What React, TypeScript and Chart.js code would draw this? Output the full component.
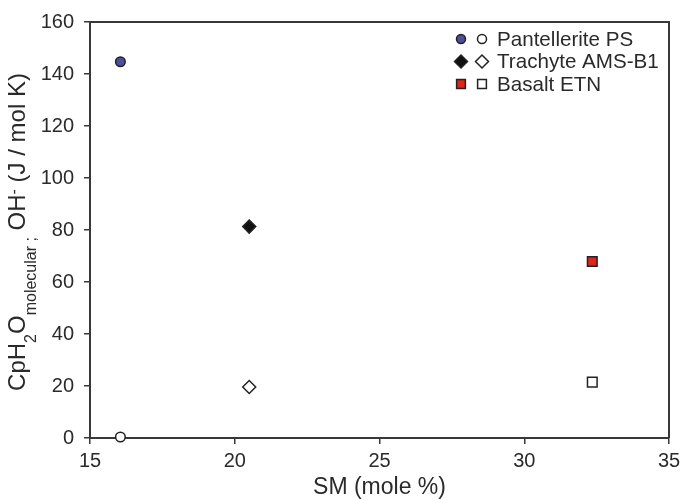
import { useEffect, useRef } from "react"
import { Chart, registerables } from "chart.js"

Chart.register(...registerables)

// samples and their values
const samples = ["Pantellerite PS", "Trachyte AMS-B1", "Basalt ETN"]
const smMolePct = [16.05, 20.5, 32.35]
const cpMolecular = [144.7, 81.3, 67.9]
const cpHydroxyl = [0.4, 19.6, 21.5]

const markerShapes = ["circle", "rectRot", "rect"]
const markerFills = ["#4b4f9c", "#111111", "#e0231c"]
const markerRadii = [4.8, 6.5, 6.8]

const xTitle = "SM (mole %)"
const yTitleParts = [
  { text: "CpH", kind: "main" },
  { text: "2", kind: "sub" },
  { text: "O", kind: "main" },
  { text: "molecular ;", kind: "sub" },
  { text: " OH", kind: "main" },
  { text: "-", kind: "sup" },
  { text: " (J / mol K)", kind: "main" },
]

const FONT = "'Liberation Sans', Arial, sans-serif"
const INK = "#2a2a2a"
const AXIS = "#383838"

function drawMarker(ctx: CanvasRenderingContext2D, shape: string, x: number, y: number, r: number, fill: string) {
  ctx.beginPath()
  if (shape === "circle") {
    ctx.arc(x, y, r, 0, Math.PI * 2)
  } else if (shape === "rectRot") {
    ctx.moveTo(x - r, y)
    ctx.lineTo(x, y - r)
    ctx.lineTo(x + r, y)
    ctx.lineTo(x, y + r)
    ctx.closePath()
  } else {
    const h = r * Math.SQRT1_2
    ctx.rect(x - h, y - h, h * 2, h * 2)
  }
  ctx.fillStyle = fill
  ctx.fill()
  ctx.lineWidth = 1.5
  ctx.strokeStyle = "#222"
  ctx.stroke()
}

const framePlugin = {
  id: "frame",
  beforeDatasetsDraw(chart: Chart) {
    const { ctx, chartArea } = chart
    ctx.save()
    ctx.strokeStyle = AXIS
    ctx.lineWidth = 2
    ctx.beginPath()
    ctx.moveTo(chartArea.left, chartArea.top)
    ctx.lineTo(chartArea.right, chartArea.top)
    ctx.lineTo(chartArea.right, chartArea.bottom)
    ctx.stroke()
    ctx.restore()
  },
}

const yTitlePlugin = {
  id: "yTitle",
  afterDraw(chart: Chart) {
    const { ctx, chartArea } = chart
    const mainFont = `24px ${FONT}`
    const smallFont = `16px ${FONT}`
    ctx.save()
    ctx.translate(25, (chartArea.top + chartArea.bottom) / 2 + 2)
    ctx.rotate(-Math.PI / 2)
    ctx.fillStyle = INK
    ctx.textBaseline = "alphabetic"
    ctx.textAlign = "left"
    let total = 0
    for (const p of yTitleParts) {
      ctx.font = p.kind === "main" ? mainFont : smallFont
      total += ctx.measureText(p.text).width
    }
    let x = -total / 2
    for (const p of yTitleParts) {
      ctx.font = p.kind === "main" ? mainFont : smallFont
      const dy = p.kind === "sub" ? 11 : p.kind === "sup" ? -6 : 0
      ctx.fillText(p.text, x, dy)
      x += ctx.measureText(p.text).width
    }
    ctx.restore()
  },
}

const legendPlugin = {
  id: "pairLegend",
  afterDraw(chart: Chart) {
    const { ctx } = chart
    ctx.save()
    ctx.font = `20.6px ${FONT}`
    ctx.textBaseline = "middle"
    ctx.textAlign = "left"
    samples.forEach((name, i) => {
      const y = 39 + i * 22.5
      const r = i === 0 ? 4.5 : i === 1 ? 6.5 : 6.2
      drawMarker(ctx, markerShapes[i], 461, y, r, markerFills[i])
      drawMarker(ctx, markerShapes[i], 482, y, r, "#ffffff")
      ctx.fillStyle = INK
      ctx.fillText(name, 497, y + 1)
    })
    ctx.restore()
  },
}

export default function App() {
  const chartRef = useRef<HTMLCanvasElement>(null)
  const chartInstance = useRef<Chart | null>(null)

  useEffect(() => {
    if (!chartRef.current) return
    if (chartInstance.current) chartInstance.current.destroy()

    const datasets: any[] = []
    samples.forEach((name, i) => {
      const common = {
        pointStyle: markerShapes[i],
        pointRadius: markerRadii[i],
        pointBorderWidth: 1.5,
        borderColor: "#222",
        showLine: false,
        clip: false,
      }
      datasets.push({
        ...common,
        label: name + " (molecular)",
        data: [{ x: smMolePct[i], y: cpMolecular[i] }],
        backgroundColor: markerFills[i],
      })
      datasets.push({
        ...common,
        label: name + " (OH)",
        data: [{ x: smMolePct[i], y: cpHydroxyl[i] }],
        backgroundColor: "#ffffff",
      })
    })

    chartInstance.current = new Chart(chartRef.current, {
      type: "scatter",
      data: { datasets },
      options: {
        responsive: false,
        animation: false,
        devicePixelRatio: 1,
        layout: { padding: { top: 21, right: 17, left: 0, bottom: 0 } },
        plugins: {
          legend: { display: false },
          tooltip: { enabled: false },
        },
        scales: {
          x: {
            type: "linear",
            min: 15,
            max: 35,
            ticks: { stepSize: 5, color: INK, font: { size: 20, family: FONT }, padding: 5 },
            grid: { drawOnChartArea: false, drawTicks: true, tickLength: 6, color: AXIS, lineWidth: 1.5 },
            border: { display: true, color: AXIS, width: 2 },
            title: {
              display: true,
              text: xTitle,
              color: INK,
              font: { size: 23, family: FONT },
              padding: { top: 0, bottom: -2 },
            },
            afterFit: (scale: any) => {
              scale.height = 61
            },
          },
          y: {
            type: "linear",
            min: 0,
            max: 160,
            ticks: { stepSize: 20, color: INK, font: { size: 20, family: FONT }, padding: 10 },
            grid: { drawOnChartArea: false, drawTicks: true, tickLength: 6, color: AXIS, lineWidth: 1.5 },
            border: { display: true, color: AXIS, width: 2 },
            afterFit: (scale: any) => {
              scale.width = 90
            },
          },
        },
      },
      plugins: [framePlugin, yTitlePlugin, legendPlugin],
    })

    return () => {
      if (chartInstance.current) {
        chartInstance.current.destroy()
        chartInstance.current = null
      }
    }
  }, [])

  return (
    <div style={{ position: "fixed", left: 0, top: 0, width: 686, height: 499, background: "#fff" }}>
      <canvas ref={chartRef} width={686} height={499} />
    </div>
  )
}
